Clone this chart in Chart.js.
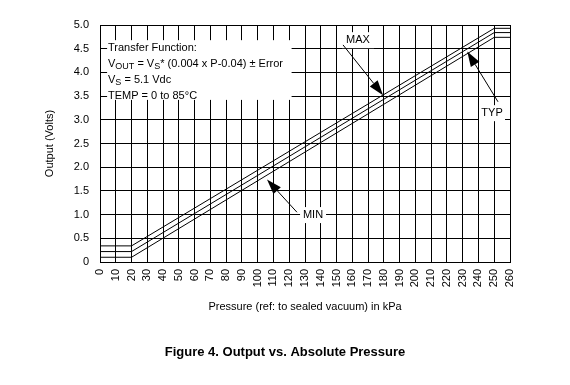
<!DOCTYPE html>
<html>
<head>
<meta charset="utf-8">
<script src="https://cdn.jsdelivr.net/npm/chart.js@4.4.1/dist/chart.umd.min.js"></script>
<style>
  html, body { margin: 0; padding: 0; background: #fff; }
  #contenedor { width: 570px; height: 385px; }
</style>
</head>
<body>
<div id="contenedor"><canvas id="grafica" width="570" height="385"></canvas></div>
<script>
// Datos (kPa -> Volts)
const presion = [0, 20, 250, 260];
const salidaMax = [0.34, 0.34, 4.93, 4.93];
const salidaTyp = [0.22, 0.22, 4.84, 4.84];
const salidaMin = [0.10, 0.10, 4.74, 4.74];
const etiquetasX = ['0', '10', '20', '30', '40', '50', '60', '70', '80', '90', '100', '110', '120', '130',
    '140', '150', '160', '170', '180', '190', '200', '210', '220', '230', '240', '250', '260'];
const etiquetasY = ['0', '0.5', '1.0', '1.5', '2.0', '2.5', '3.0', '3.5', '4.0', '4.5', '5.0'];
const nombresSerie = ['MAX', 'TYP', 'MIN'];

const FUENTE = "'Liberation Sans', Arial, Helvetica, sans-serif";
Chart.defaults.font.family = FUENTE;
Chart.defaults.color = '#000';

function puntos(valores) {
    return presion.map((p, i) => ({ x: p, y: valores[i] }));
}

// Texto con subíndices: partes = [[texto, 'n'|'sub']]
function textoRico(ctx, x, y, partes) {
    let cx = x;
    partes.forEach(([t, tipo]) => {
        if (tipo === 'sub') {
            ctx.font = '9px ' + FUENTE;
            ctx.fillText(t, cx, y + 3);
        } else {
            ctx.font = '11px ' + FUENTE;
            ctx.fillText(t, cx, y);
        }
        cx += ctx.measureText(t).width;
    });
}

function flecha(ctx, x1, y1, x2, y2) {
    const ang = Math.atan2(y2 - y1, x2 - x1);
    const largo = 15, ancho = 5;
    ctx.beginPath();
    ctx.moveTo(x1, y1);
    ctx.lineTo(x2 - Math.cos(ang) * largo, y2 - Math.sin(ang) * largo);
    ctx.lineWidth = 1;
    ctx.strokeStyle = '#000';
    ctx.stroke();
    ctx.beginPath();
    ctx.moveTo(x2, y2);
    ctx.lineTo(x2 - Math.cos(ang) * largo - Math.sin(ang) * ancho, y2 - Math.sin(ang) * largo + Math.cos(ang) * ancho);
    ctx.lineTo(x2 - Math.cos(ang) * largo + Math.sin(ang) * ancho, y2 - Math.sin(ang) * largo - Math.cos(ang) * ancho);
    ctx.closePath();
    ctx.fillStyle = '#000';
    ctx.fill();
}

const pluginAnotaciones = {
    id: 'anotaciones',
    beforeDatasetsDraw(chart) {
        const { ctx, scales: { x, y } } = chart;
        ctx.save();
        ctx.fillStyle = '#fff';
        // recuadro de la función de transferencia
        const bx1 = x.getPixelForValue(4.5), bx2 = x.getPixelForValue(121.5);
        const by1 = y.getPixelForValue(4.68), by2 = y.getPixelForValue(3.42);
        ctx.fillRect(bx1, by1, bx2 - bx1, by2 - by1);
        // fondos de etiquetas
        [[163.6, 4.68, 32], [248.6, 3.14, 26], [135.1, 0.99, 26]].forEach(([px, py, w]) => {
            const cx = x.getPixelForValue(px), cy = y.getPixelForValue(py);
            ctx.fillRect(cx - w / 2, cy - 8, w, 16);
        });
        ctx.restore();
    },
    afterDatasetsDraw(chart) {
        const { ctx, chartArea, scales: { x, y } } = chart;
        ctx.save();
        ctx.fillStyle = '#000';
        ctx.textBaseline = 'middle';
        ctx.textAlign = 'left';
        const tx = chartArea.left + 8;
        textoRico(ctx, tx, chartArea.top + 23, [['Transfer Function:', 'n']]);
        textoRico(ctx, tx, chartArea.top + 39, [['V', 'n'], ['OUT', 'sub'], [' = V', 'n'], ['S', 'sub'], ['* (0.004 x P-0.04) \u00b1 Error', 'n']]);
        textoRico(ctx, tx, chartArea.top + 55, [['V', 'n'], ['S', 'sub'], [' = 5.1 Vdc', 'n']]);
        textoRico(ctx, tx, chartArea.top + 71, [['TEMP = 0 to 85\u00b0C', 'n']]);

        // etiquetas de las curvas
        ctx.font = '11px ' + FUENTE;
        ctx.textAlign = 'center';
        const posEtiquetas = [[163.6, 4.68], [248.6, 3.14], [135.1, 0.99]];
        nombresSerie.forEach((n, i) => {
            ctx.fillText(n, x.getPixelForValue(posEtiquetas[i][0]), y.getPixelForValue(posEtiquetas[i][1]));
        });

        // flechas: [desde, hasta] en unidades de datos
        const flechas = [
            [154.1, 4.58, 179.5, 3.52],
            [252.4, 3.38, 232.9, 4.44],
            [124.9, 1.05, 105.9, 1.74]
        ];
        flechas.forEach(([a, b, c, d]) => {
            flecha(ctx, x.getPixelForValue(a), y.getPixelForValue(b), x.getPixelForValue(c), y.getPixelForValue(d));
        });

        // pie de figura
        ctx.font = 'bold 13px ' + FUENTE;
        ctx.fillText('Figure 4. Output vs. Absolute Pressure', chart.width / 2, 352);
        ctx.restore();
    }
};

const serieBase = {
    borderColor: '#000',
    borderWidth: 1,
    pointRadius: 0,
    tension: 0,
    fill: false
};

new Chart(document.getElementById('grafica').getContext('2d'), {
    type: 'line',
    data: {
        datasets: [
            { ...serieBase, label: nombresSerie[0], data: puntos(salidaMax) },
            { ...serieBase, label: nombresSerie[1], data: puntos(salidaTyp) },
            { ...serieBase, label: nombresSerie[2], data: puntos(salidaMin) }
        ]
    },
    options: {
        responsive: false,
        animation: false,
        devicePixelRatio: 1,
        layout: { padding: { top: 25, right: 60, left: 0, bottom: 0 } },
        plugins: {
            legend: { display: false },
            tooltip: { enabled: false }
        },
        scales: {
            x: {
                type: 'linear',
                min: 0,
                max: 260,
                ticks: {
                    stepSize: 10,
                    autoSkip: false,
                    minRotation: 90,
                    maxRotation: 90,
                    padding: 7,
                    font: { size: 11 },
                    callback: (v, i) => etiquetasX[i]
                },
                grid: { color: '#000', lineWidth: 1, drawTicks: false },
                border: { color: '#000', width: 1 },
                title: {
                    display: true,
                    text: 'Pressure (ref: to sealed vacuum) in kPa',
                    font: { size: 11 },
                    padding: { top: 0, bottom: 71 }
                },
                afterFit(escala) {
                    escala.height = 123;
                    escala.paddingLeft = 0;
                    escala.paddingRight = 0;
                }
            },
            y: {
                min: 0,
                max: 5,
                ticks: {
                    stepSize: 0.5,
                    padding: 11,
                    font: { size: 11 },
                    callback: (v, i) => etiquetasY[i]
                },
                grid: { color: '#000', lineWidth: 1, drawTicks: false },
                border: { color: '#000', width: 1 },
                title: {
                    display: true,
                    text: 'Output (Volts)',
                    font: { size: 11 },
                    padding: { top: 43, bottom: 0 }
                },
                afterFit(escala) {
                    escala.width = 100;
                }
            }
        }
    },
    plugins: [pluginAnotaciones]
});
</script>
</body>
</html>
